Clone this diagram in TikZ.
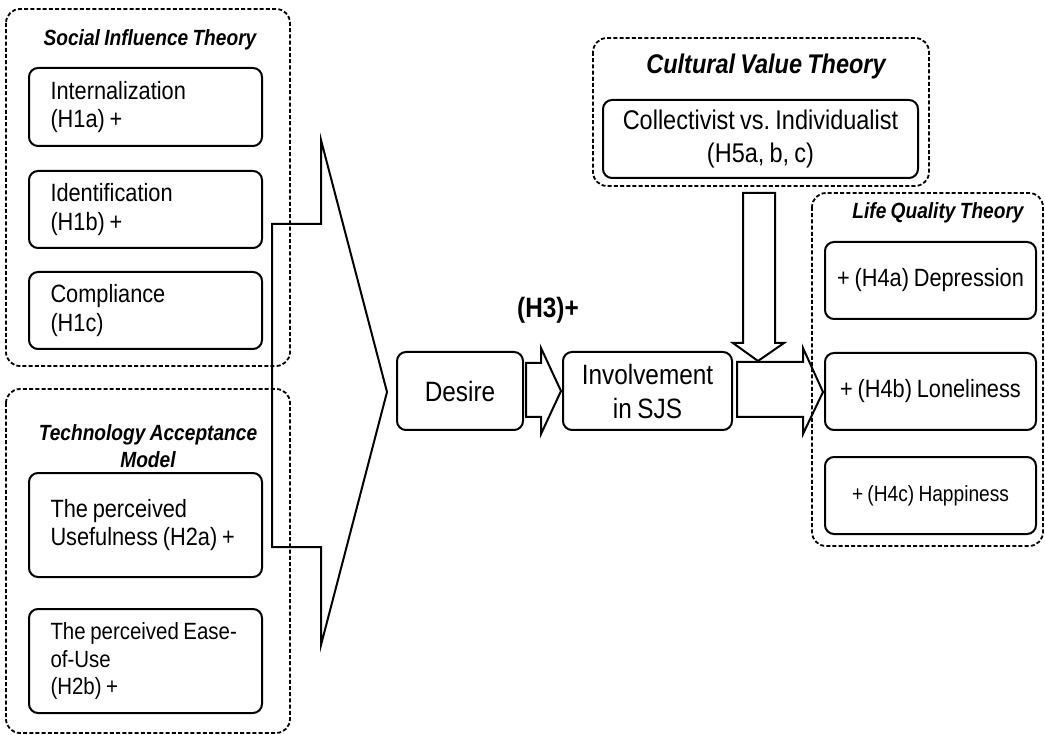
\documentclass[tikz,border=0pt]{standalone}
\usepackage{fontspec}
\setmainfont[FakeStretch=0.87,WordSpace=0.8]{Liberation Sans}
\usetikzlibrary{calc}

\tikzset{
  grp/.style={draw, line width=1.8pt, dash pattern=on 4pt off 2.2pt, rounded corners=14pt},
  hyp/.style={draw, line width=2pt, rounded corners=9pt, inner sep=0pt},
  lbox/.style={hyp, minimum width=233pt, text width=190pt, inner xsep=21.5pt, align=flush left, font=\fontsize{25}{28.5}\selectfont},
  rbox/.style={hyp, minimum width=211pt, minimum height=77pt, align=center, font=\fontsize{25}{28.5}\selectfont},
  mid/.style={hyp, minimum height=78pt, align=center, font=\fontsize{28}{34}\selectfont},
  ttl/.style={font=\fontsize{22}{27}\selectfont\bfseries\itshape, align=center},
  blk/.style={draw, line width=2pt, line join=miter},
}

\begin{document}
\begin{tikzpicture}[x=1pt,y=-1pt]
  \useasboundingbox (0,0) rectangle (1045,735);
  % theory groups
  \draw[grp] (6,9) rectangle (290,366);
  \draw[grp] (6,389) rectangle (290,733);
  \draw[grp] (593,38) rectangle (929,186);
  \draw[grp] (812,193) rectangle (1043,546);

  % social influence
  \node[ttl] (sit) at (150,40) {Social Influence Theory};
  \node[lbox, minimum height=78pt] (intl) at (145.5,107) {Internalization\\(H1a) +};
  \node[lbox, minimum height=77pt] (iden) at (145.5,209.5) {Identification\\(H1b) +};
  \node[lbox, minimum height=77pt] (comp) at (145.5,310.5) {Compliance\\(H1c)};

  % technology acceptance
  \node[ttl] (tam) at (148,446) {Technology Acceptance\\Model};
  \node[lbox, minimum height=104pt] (pu) at (145.5,525) {The perceived\\Usefulness (H2a) +};
  \node[lbox, minimum height=104pt, font=\fontsize{23.5}{27.5}\selectfont] (peou) at (145.5,661) {The perceived Ease-\\of-Use\\(H2b) +};

  % middle
  \node[mid, minimum width=126pt] (desire) at (460,391) {Desire};
  \node[mid, minimum width=169pt] (inv) at (647.5,391) {Involvement\\in SJS};
  \node[font=\fontsize{28}{32}\selectfont\bfseries] (h3) at (548,310) {(H3)+};

  % cultural value
  \node[ttl, font=\fontsize{27}{32}\selectfont\bfseries\itshape] (cvt) at (766,67) {Cultural Value Theory};
  \node[hyp, minimum width=315pt, minimum height=78pt, align=center, font=\fontsize{27}{33}\selectfont] (cvi) at (760.5,139) {Collectivist vs.\ Individualist\\(H5a, b, c)};

  % life quality
  \node[ttl] (lqt) at (938,213) {Life Quality Theory};
  \node[rbox] (dep) at (930.5,280.5) {+ (H4a) Depression};
  \node[rbox] (lon) at (930.5,391.5) {+ (H4b) Loneliness};
  \node[rbox, font=\fontsize{22}{26}\selectfont] (hap) at (930.5,495.5) {+ (H4c) Happiness};

  % block arrows
  \coordinate (tip) at ($(desire.west)+(-9,1)$);
  \draw[blk] (tip) -- ++(-66,253) -- ++(0,-98) -- ++(-49,0) -- ++(0,-323) -- ++(49,0) -- ++(0,-84) -- cycle;
  \draw[blk] ($(desire.east)+(2,-28)$) -- ++(15,0) -- ++(0,-15) -- ++(20,43) -- ++(-20,43) -- ++(0,-17) -- ++(-15,0) -- cycle;
  \draw[blk] ($(inv.east)+(4,-29)$) -- ++(66,0) -- ++(0,-14) -- ++(20,44) -- ++(-20,42) -- ++(0,-17) -- ++(-66,0) -- cycle;
  \draw[blk] ($(cvi.south)+(-17.5,14)$) -- ++(32,0) -- ++(0,150) -- ++(9,0) -- ++(-26,18) -- ++(-25,-18) -- ++(10,0) -- cycle;
\end{tikzpicture}
\end{document}
